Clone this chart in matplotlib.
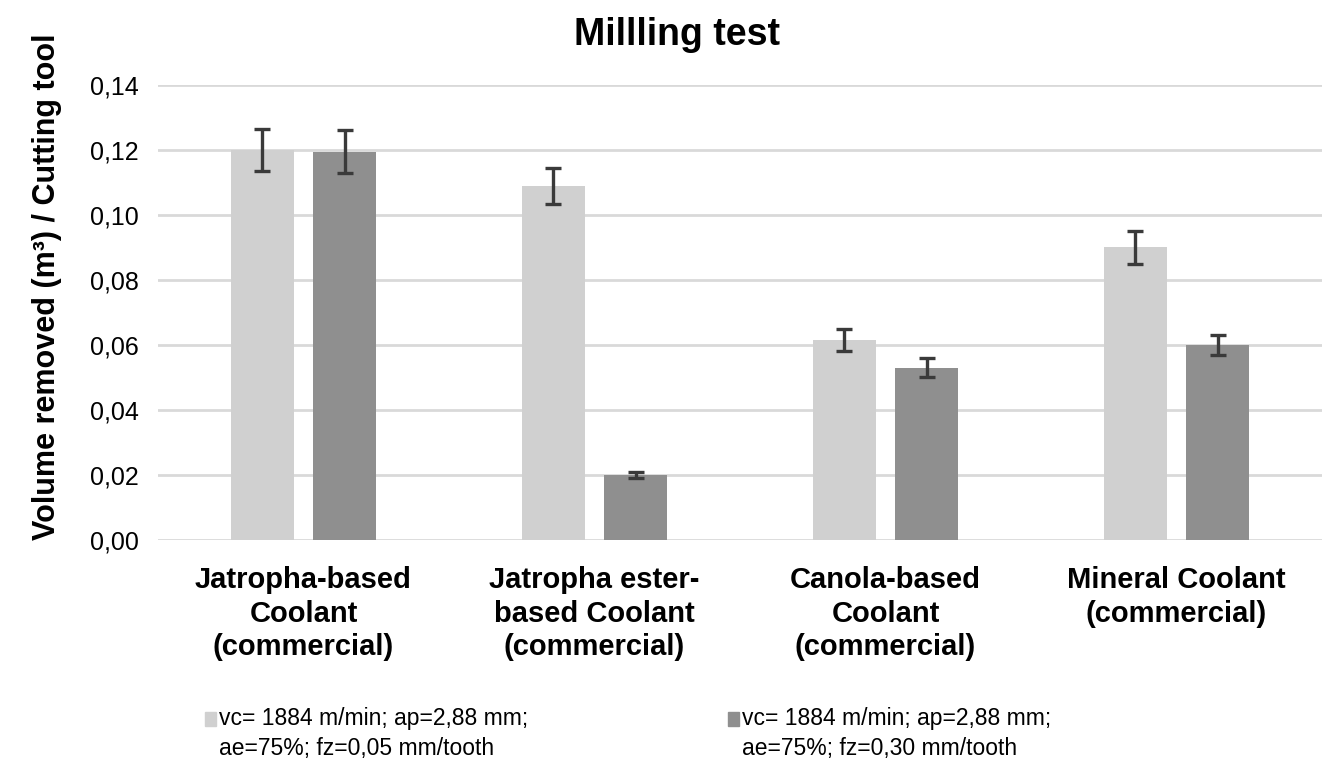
### Imports ###

import numpy as np
from matplotlib import pyplot as plt
from matplotlib.patches import Rectangle

### Data ###

categories = ['Jatropha-based\nCoolant\n(commercial)',
              'Jatropha ester-\nbased Coolant\n(commercial)',
              'Canola-based\nCoolant\n(commercial)',
              'Mineral Coolant\n(commercial)']
low_fz_values = [0.120, 0.109, 0.0615, 0.090]
low_fz_errors = [0.0065, 0.0055, 0.0035, 0.005]
high_fz_values = [0.1195, 0.020, 0.053, 0.060]
high_fz_errors = [0.0065, 0.001, 0.003, 0.003]
series_labels = ['vc= 1884 m/min; ap=2,88 mm;\nae=75%; fz=0,05 mm/tooth',
                 'vc= 1884 m/min; ap=2,88 mm;\nae=75%; fz=0,30 mm/tooth']
y_ticks = [0.00, 0.02, 0.04, 0.06, 0.08, 0.10, 0.12, 0.14]

### Plot ###

plt.rcParams['font.family'] = ['Liberation Sans', 'DejaVu Sans']

fig = plt.figure(figsize=(13.22, 7.81), dpi=100)
ax = fig.add_axes([0.1195, 0.3086, 0.8805, 0.5826])

x = np.arange(len(categories))
width = 0.217
offset = 0.142
light = '#d0d0d0'
dark = '#8f8f8f'
err_kw = dict(ecolor='#3a3a3a', elinewidth=2.4, capsize=6, capthick=2.4)

ax.bar(x - offset, low_fz_values, width, color=light, yerr=low_fz_errors,
       error_kw=err_kw, zorder=2)
ax.bar(x + offset, high_fz_values, width, color=dark, yerr=high_fz_errors,
       error_kw=err_kw, zorder=2)

# Axes styling
ax.set_xlim(-0.5, 3.5)
ax.set_ylim(0, 0.14)
ax.set_yticks(y_ticks)
ax.set_yticklabels([f'{t:.2f}'.replace('.', ',') for t in y_ticks], fontsize=18)
ax.set_xticks(x)
ax.set_xticklabels(categories, fontsize=21, fontweight='bold', linespacing=1.25)
ax.tick_params(axis='both', length=0)
ax.tick_params(axis='y', pad=14)
ax.tick_params(axis='x', pad=19)
ax.grid(axis='y', color='#d9d9d9', linewidth=2, zorder=0)
for spine in ax.spines.values():
    spine.set_visible(False)

ax.set_ylabel('Volume removed (m³) / Cutting tool', fontsize=22, fontweight='bold')
ax.yaxis.set_label_coords(-0.0825, 0.556)
fig.suptitle('Millling test', fontsize=27, fontweight='bold', x=0.512, y=0.978)

# Legend drawn by hand so the swatch sits on the first text line
swatch_x = [0.155, 0.551]
for sx, color, label in zip(swatch_x, [light, dark], series_labels):
    fig.patches.append(Rectangle((sx, 0.0704), 0.0083, 0.018, color=color,
                                 transform=fig.transFigure, figure=fig))
    fig.text(sx + 0.0105, 0.0945, label, fontsize=16.5,
             va='top', ha='left', linespacing=1.4)

fig.savefig('out.png', dpi=100)
